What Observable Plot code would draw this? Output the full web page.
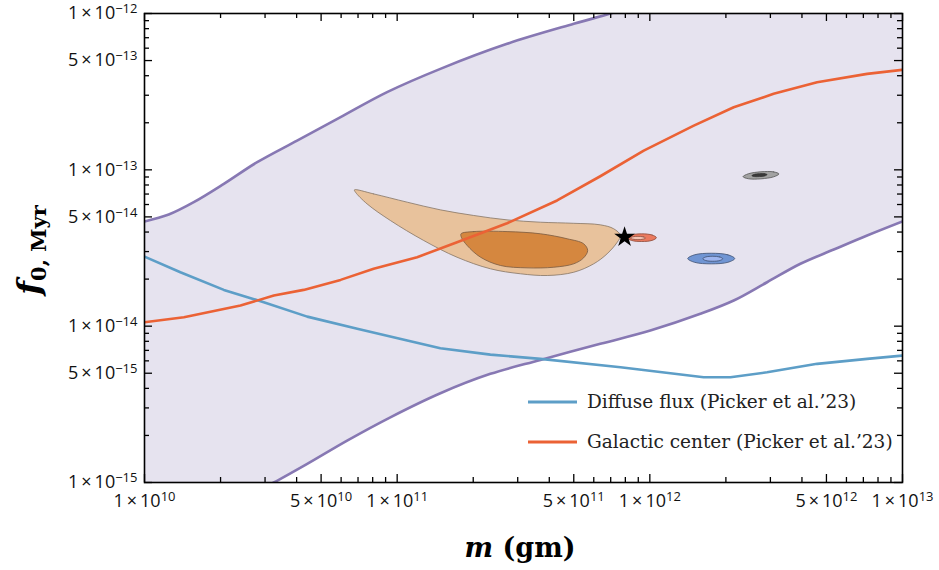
<!DOCTYPE html>
<html><head><meta charset="utf-8">
<script src="https://cdn.jsdelivr.net/npm/d3@7"></script>
<script src="https://cdn.jsdelivr.net/npm/@observablehq/plot@0.6"></script>
<style>body{margin:0;background:#fff} #chart{width:939px;height:570px}</style>
</head><body><div id="chart"></div>
<script>
// ---- data (log10 of m in gm, log10 of f0,Myr) ----
const upperLogM = [10.0, 10.096, 10.195, 10.314, 10.446, 10.604, 10.776, 10.96, 11.171, 11.435, 11.699, 11.831, 12.0, 12.3];
const upperLogF = [-13.33, -13.286, -13.207, -13.09, -12.951, -12.813, -12.663, -12.503, -12.354, -12.194, -12.066, -12.006, -11.93, -11.8];
const lowerLogM = [10.45, 10.512, 10.644, 10.802, 10.973, 11.171, 11.369, 11.567, 11.804, 12.002, 12.2, 12.332, 12.464, 12.596, 12.728, 12.86, 13.0];
const lowerLogF = [-15.05, -15.0, -14.881, -14.732, -14.583, -14.429, -14.305, -14.216, -14.113, -14.028, -13.921, -13.836, -13.719, -13.601, -13.51, -13.42, -13.33];
const bandCornerLogM = [13.05, 10.0];   // top-right and bottom-left closing corners
const bandCornerLogF = [-11.8, -15.05];

const diffuseLogM = [10.0, 10.142, 10.314, 10.472, 10.644, 10.842, 11.04, 11.171, 11.369, 11.567, 11.884, 12.213, 12.319, 12.464, 12.662, 12.86, 13.0];
const diffuseLogF = [-13.555, -13.655, -13.768, -13.847, -13.939, -14.017, -14.092, -14.141, -14.182, -14.209, -14.263, -14.327, -14.327, -14.295, -14.241, -14.209, -14.188];

const galacticLogM = [10.0, 10.156, 10.38, 10.512, 10.63, 10.776, 10.907, 11.079, 11.237, 11.435, 11.633, 11.804, 11.976, 12.174, 12.332, 12.49, 12.662, 12.86, 13.0];
const galacticLogF = [-13.975, -13.943, -13.868, -13.804, -13.768, -13.704, -13.633, -13.559, -13.463, -13.342, -13.196, -13.041, -12.877, -12.717, -12.6, -12.514, -12.44, -12.386, -12.36];

const outerLogM = [10.831, 10.907, 11.04, 11.171, 11.303, 11.435, 11.567, 11.699, 11.805, 11.857, 11.884, 11.871, 11.831, 11.778, 11.699, 11.594, 11.488, 11.369, 11.237, 11.105, 10.973, 10.881, 10.835];
const outerLogF = [-13.128, -13.154, -13.207, -13.256, -13.292, -13.32, -13.335, -13.342, -13.352, -13.377, -13.42, -13.463, -13.537, -13.601, -13.655, -13.676, -13.665, -13.633, -13.559, -13.452, -13.324, -13.218, -13.143];
const innerLogM = [11.253, 11.303, 11.435, 11.567, 11.673, 11.738, 11.754, 11.738, 11.699, 11.62, 11.514, 11.409, 11.33, 11.277, 11.254];
const innerLogF = [-13.409, -13.395, -13.395, -13.409, -13.441, -13.473, -13.516, -13.563, -13.601, -13.623, -13.627, -13.612, -13.559, -13.484, -13.431];

const redOuterLogM = [12.026, 12.009, 11.968, 11.927, 11.91, 11.927, 11.968, 12.009];
const redOuterLogF = [-13.434, -13.4167, -13.4095, -13.4167, -13.434, -13.4513, -13.4585, -13.4513];
const redInnerLogM = [11.983, 11.974, 11.953, 11.932, 11.923, 11.932, 11.953, 11.974];
const redInnerLogF = [-13.436, -13.4286, -13.4255, -13.4286, -13.436, -13.4434, -13.4465, -13.4434];
const blueOuterLogM = [12.336, 12.309, 12.243, 12.177, 12.15, 12.177, 12.243, 12.309];
const blueOuterLogF = [-13.5675, -13.5435, -13.5336, -13.5435, -13.5675, -13.5915, -13.6014, -13.5915];
const blueInnerLogM = [12.2885, 12.277, 12.249, 12.221, 12.2095, 12.221, 12.249, 12.277];
const blueInnerLogF = [-13.5688, -13.5575, -13.5528, -13.5575, -13.5688, -13.5801, -13.5848, -13.5801];
const grayOuterLogM = [12.511, 12.49, 12.44, 12.39, 12.369, 12.39, 12.44, 12.49];
const grayOuterLogF = [-13.0263, -13.013, -13.0125, -13.0252, -13.0437, -13.057, -13.0575, -13.0448];
const grayInnerLogM = [12.464, 12.455, 12.434, 12.413, 12.404, 12.413, 12.434, 12.455];
const grayInnerLogF = [-13.0303, -13.025, -13.025, -13.029, -13.0377, -13.043, -13.043, -13.039];

const starLogM = [11.9];
const starLogF = [-13.431];

const xLabeled = [1e10, 5e10, 1e11, 5e11, 1e12, 5e12, 1e13];
const yLabeled = [1e-15, 5e-15, 1e-14, 5e-14, 1e-13, 5e-13, 1e-12];
const minorMantissas = [2, 3, 4, 6, 7, 8, 9];
const xDecades = [10, 11, 12];
const yDecades = [-15, -14, -13];
const xMinor = xDecades.flatMap(e => minorMantissas.map(k => k * 10 ** e));
const yMinor = yDecades.flatMap(e => minorMantissas.map(k => k * 10 ** e));

const legendLabels = ["Diffuse flux (Picker et al.\u201923)", "Galactic center (Picker et al.\u201923)"];

// ---- build tables ----
const pts = (lm, lf) => lm.map((v, i) => ({m: 10 ** v, f: 10 ** lf[i]}));
const upper = pts(upperLogM, upperLogF);
const lower = pts(lowerLogM, lowerLogF);
const corners = pts(bandCornerLogM, bandCornerLogF);
const band = [...upper, corners[0], ...lower.slice().reverse(), corners[1]];
const diffuse = pts(diffuseLogM, diffuseLogF);
const galactic = pts(galacticLogM, galacticLogF);

const W = 939, H = 570, mL = 144, mR = 37, mT = 13, mB = 88;
const iW = W - mL - mR, iH = H - mT - mB;

function fmt(v) {
  const e = Math.floor(Math.log10(v) + 1e-9);
  const k = Math.round(v / 10 ** e);
  return `${k}\u2009\u00d7\u200910^${e}`;
}

const blob = (lm, lf, fill, stroke, sw = 0.8) =>
  Plot.line(pts(lm, lf), {x: "m", y: "f", fill, stroke, strokeWidth: sw, curve: "catmull-rom-closed"});

const purple = "#8778b3", blue = "#5d9ec7", orange = "#eb6235";
const tickFont = "'Open Sans', sans-serif";

const chart = Plot.plot({
  width: W, height: H,
  marginLeft: mL, marginRight: mR, marginTop: mT, marginBottom: mB,
  x: {type: "log", domain: [1e10, 1e13], label: null, axis: null},
  y: {type: "log", domain: [1e-15, 1e-12], label: null, axis: null},
  style: {fontFamily: tickFont, fontSize: "18px", background: "white", color: "black"},
  marks: [
    Plot.line(band, {x: "m", y: "f", fill: "#e6e3ef", stroke: "none", curve: "linear-closed", clip: true}),
    blob(outerLogM, outerLogF, "#e8c29c", "#857565"),
    blob(innerLogM, innerLogF, "#d5873f", "#7a5a40"),
    blob(redOuterLogM, redOuterLogF, "#eb7a5f", "#8a4a3a"),
    blob(redInnerLogM, redInnerLogF, "#f4c3b3", "#8a4a3a"),
    blob(blueOuterLogM, blueOuterLogF, "#7095d3", "#3d4f70"),
    blob(blueInnerLogM, blueInnerLogF, "#9db5ef", "#3d4f70"),
    blob(grayOuterLogM, grayOuterLogF, "#a2a2a2", "#555"),
    blob(grayInnerLogM, grayInnerLogF, "#3a3a3a", "#333"),
    Plot.line(upper, {x: "m", y: "f", stroke: purple, strokeWidth: 2.6, curve: "catmull-rom", clip: true}),
    Plot.line(lower, {x: "m", y: "f", stroke: purple, strokeWidth: 2.6, curve: "catmull-rom", clip: true}),
    Plot.line(diffuse, {x: "m", y: "f", stroke: blue, strokeWidth: 2.6, clip: true}),
    Plot.line(galactic, {x: "m", y: "f", stroke: orange, strokeWidth: 2.6, clip: true}),
    Plot.dot(pts(starLogM, starLogF), {x: "m", y: "f", symbol: "star", r: 6.5, fill: "black", stroke: "none"}),
    // inward ticks on all four sides
    Plot.tickX(xLabeled, {x: d => d, insetTop: iH - 8, strokeWidth: 1.3}),
    Plot.tickX(xMinor, {x: d => d, insetTop: iH - 5, strokeWidth: 1.3}),
    Plot.tickX(xLabeled, {x: d => d, insetBottom: iH - 8, strokeWidth: 1.3}),
    Plot.tickX(xMinor, {x: d => d, insetBottom: iH - 5, strokeWidth: 1.3}),
    Plot.tickY(yLabeled, {y: d => d, insetRight: iW - 8, strokeWidth: 1.3}),
    Plot.tickY(yMinor, {y: d => d, insetRight: iW - 5, strokeWidth: 1.3}),
    Plot.tickY(yLabeled, {y: d => d, insetLeft: iW - 8, strokeWidth: 1.3}),
    Plot.tickY(yMinor, {y: d => d, insetLeft: iW - 5, strokeWidth: 1.3}),
    // tick labels
    Plot.text(xLabeled, {x: d => d, text: fmt, frameAnchor: "bottom", lineAnchor: "top", dy: 12, fill: "#111"}),
    Plot.text(yLabeled, {y: d => d, text: fmt, frameAnchor: "left", textAnchor: "end", lineAnchor: "middle", dx: -7, fill: "#111"}),
    Plot.frame({stroke: "black", strokeWidth: 1.6})
  ]
});

document.getElementById("chart").appendChild(chart);
const svg = d3.select(chart);

// superscript exponents in tick labels
svg.selectAll("text").each(function () {
  const t = this.textContent;
  if (!t.includes("^")) return;
  const [base, exp] = t.split("^");
  const sel = d3.select(this).attr("font-size", null).style("font-size", "18px");
  sel.text(null);
  sel.append("tspan").style("font-size", "18px").text(base);
  sel.append("tspan").attr("dy", -6).style("font-size", "13px").text(exp.replace("-", "\u2212"));
});

// axis titles
const xt = svg.append("text").attr("x", 520).attr("y", 557).attr("text-anchor", "middle")
  .attr("font-family", "'DejaVu Serif', serif").attr("font-weight", "bold").attr("font-size", 27).attr("fill", "black");
xt.append("tspan").attr("font-style", "italic").text("m");
xt.append("tspan").text(" (gm)");

const yt = svg.append("text").attr("transform", "translate(40,250) rotate(-90)").attr("text-anchor", "middle")
  .attr("font-family", "'DejaVu Serif', serif").attr("font-weight", "bold").attr("font-size", 32).attr("fill", "black");
yt.append("tspan").attr("font-style", "italic").text("f");
yt.append("tspan").attr("font-size", 21).attr("dy", 6).text("0, Myr");

// legend
const legendColors = [blue, orange];
const lg = svg.append("g");
legendLabels.forEach((label, i) => {
  const y = 402 + i * 40;
  lg.append("line").attr("x1", 528).attr("x2", 577).attr("y1", y).attr("y2", y)
    .attr("stroke", legendColors[i]).attr("stroke-width", 3);
  lg.append("text").attr("x", 587).attr("y", y + 6).attr("text-anchor", "start")
    .attr("font-family", "'DejaVu Serif', serif").attr("font-size", 18.5).attr("fill", "#222").text(label);
});
</script></body></html>
